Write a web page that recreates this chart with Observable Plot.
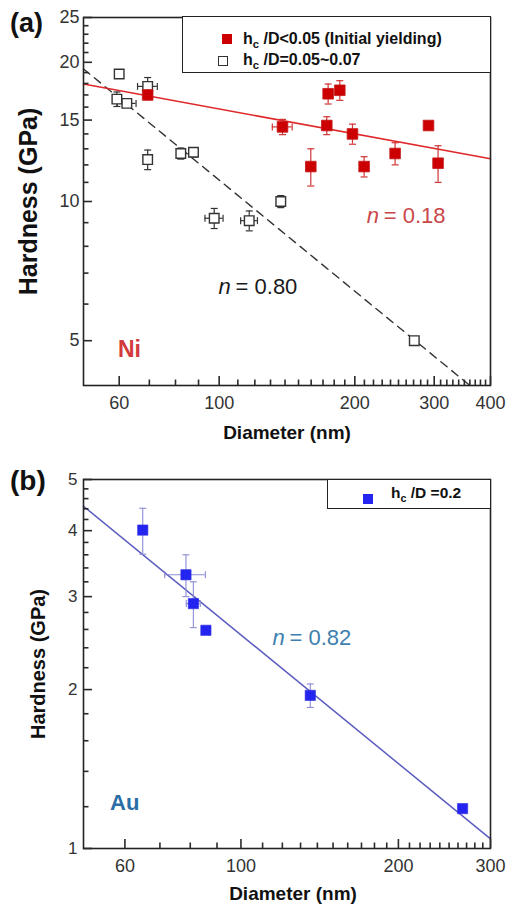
<!DOCTYPE html>
<html><head><meta charset="utf-8">
<script src="https://cdn.jsdelivr.net/npm/d3@7"></script>
<script src="https://cdn.jsdelivr.net/npm/@observablehq/plot@0.6"></script>
<style>
body{margin:0;background:#fff;font-family:"Liberation Sans",Arial,sans-serif;}
#wrap{position:relative;width:507px;height:907px;overflow:hidden;background:#fff;}
#pa{position:absolute;left:0;top:0;}
#pb{position:absolute;left:0;top:455px;}
.tag{position:absolute;font-weight:bold;color:#111;line-height:1;}
.legend{position:absolute;box-sizing:border-box;border:1.6px solid #222;background:#fff;font-weight:bold;color:#111;}
.row{position:absolute;white-space:nowrap;line-height:1;}
.row sub{font-size:70%;vertical-align:-0.35em;line-height:0;}
.sw{position:absolute;width:10px;height:10px;box-sizing:border-box;}
</style></head>
<body><div id="wrap">
<div id="pa"></div><div id="pb"></div>
<div class="tag" style="left:10px;top:10px;font-size:27px;">(a)</div>
<div class="tag" style="left:10px;top:467px;font-size:28px;">(b)</div>
<div class="legend" style="left:182px;top:16px;width:309px;height:57px;">
  <div class="sw" style="left:39px;top:17px;background:#cc0000;"></div>
  <div class="row" style="left:60px;top:14px;font-size:16px;">h<sub>c</sub> /D&lt;0.05 (Initial yielding)</div>
  <div class="sw" style="left:35px;top:39px;border:1.4px solid #333;background:#fff;"></div>
  <div class="row" style="left:60px;top:35px;font-size:16px;">h<sub>c</sub> /D=0.05~0.07</div>
</div>
<div class="legend" style="left:327px;top:479px;width:164px;height:30px;">
  <div class="sw" style="left:35px;top:14px;background:#2424f0;"></div>
  <div class="row" style="left:63px;top:5px;font-size:15.5px;">h<sub>c</sub> /D =0.2</div>
</div>
</div>
<script>
// ---------- Panel (a): Ni ----------
const niRedD    = [69.4, 138.2, 159.7, 173.3, 174.5, 185.2, 197.6, 209.7, 245.7, 291.4, 306];
const niRedH    = [17.0, 14.5, 11.9, 14.6, 17.1, 17.4, 14.0, 11.9, 12.7, 14.6, 12.1];
const niRedHErr = [0.4, 0.55, 1.1, 0.65, 0.85, 0.85, 0.7, 0.6, 0.7, 0, 1.1];
const niRedDErr = [0, 7, 0, 0, 0, 0, 0, 0, 0, 0, 0];

const niOpenD    = [60.0, 59.3, 62.4, 69.4, 69.4, 82.2, 87.7, 97.5, 116.6, 137, 271];
const niOpenH    = [18.87, 16.65, 16.3, 17.74, 12.32, 12.7, 12.78, 9.2, 9.09, 10.0, 5.0];
const niOpenHErr = [0, 0.6, 0.3, 0.8, 0.6, 0.35, 0.3, 0.46, 0.45, 0.3, 0];
const niOpenDErr = [0, 0, 3, 3.5, 0, 0, 0, 4.5, 5, 0, 0];

const niFitRedD = [50, 400], niFitRedH = [17.95, 12.37];
const niFitOpenD = [50, 360], niFitOpenH = [19.35, 4.0];

const aXDomain = [50, 400], aYDomain = [4, 25];
const aXMajor = [60, 100, 200, 300, 400];
const aXMinor = [70, 80, 90, 110, 120, 130, 140, 150, 160, 170, 180, 190, 210, 220, 230, 240, 250, 260, 270, 280, 290, 310, 320, 330, 340, 350, 360, 370, 380, 390];
const aYMajor = [5, 10, 15, 20, 25];
const aYMinor = [6, 7, 8, 9, 11, 12, 13, 14, 16, 17, 18, 19, 21, 22, 23, 24];

// ---------- Panel (b): Au ----------
const auD    = [64.9, 78.5, 81.1, 85.7, 135.7, 265.3];
const auH    = [4.01, 3.30, 2.91, 2.59, 1.95, 1.19];
const auHErr = [0.4, 0.3, 0.29, 0, 0.1, 0];
const auDErr = [0, 7, 2.5, 0, 0, 0];
const auFitD = [50, 300], auFitH = [4.45, 1.043];

const bXDomain = [50, 300], bYDomain = [1, 5];
const bXMajor = [60, 100, 200, 300];
const bXMinor = [70, 80, 90, 110, 120, 130, 140, 150, 160, 170, 180, 190, 210, 220, 230, 240, 250, 260, 270, 280, 290];
const bYMajor = [1, 2, 3, 4, 5];
const bYMinor = [1.2, 1.4, 1.6, 1.8, 2.2, 2.4, 2.6, 2.8, 3.2, 3.4, 3.6, 3.8, 4.2, 4.4, 4.6, 4.8];

// ---------- helpers ----------
const rows = (D, H, HE, DE) => D.map((d, i) => ({d, h: H[i], he: HE ? HE[i] : 0, de: DE ? DE[i] : 0}));
const capH = {draw(c) { c.moveTo(-3.5, 0); c.lineTo(3.5, 0); }};
const capV = {draw(c) { c.moveTo(0, -3.5); c.lineTo(0, 3.5); }};
const FONT = "Liberation Sans, Arial, sans-serif";

function errMarks(data, color, w) {
  const v = data.filter(r => r.he > 0), hz = data.filter(r => r.de > 0);
  const o = {stroke: color, strokeWidth: w, fill: "none"};
  return [
    Plot.ruleX(v, {x: "d", y1: r => r.h - r.he, y2: r => r.h + r.he, ...o}),
    Plot.dot(v, {x: "d", y: r => r.h - r.he, symbol: capH, r: 1, ...o}),
    Plot.dot(v, {x: "d", y: r => r.h + r.he, symbol: capH, r: 1, ...o}),
    Plot.ruleY(hz, {y: "h", x1: r => r.d - r.de, x2: r => r.d + r.de, ...o}),
    Plot.dot(hz, {x: r => r.d - r.de, y: "h", symbol: capV, r: 1, ...o}),
    Plot.dot(hz, {x: r => r.d + r.de, y: "h", symbol: capV, r: 1, ...o})
  ];
}
// inward ticks: rules spanning the frame, inset so only a short stub remains
function tickMarks(fw, fh, xMaj, xMin, yMaj, yMin) {
  const o = {stroke: "#2a2a2a", strokeWidth: 1.6};
  return [
    Plot.ruleX(xMaj, {x: d => d, insetTop: fh - 9, ...o}),
    Plot.ruleX(xMin, {x: d => d, insetTop: fh - 5.5, ...o}),
    Plot.ruleY(yMaj, {y: d => d, insetRight: fw - 9, ...o}),
    Plot.ruleY(yMin, {y: d => d, insetRight: fw - 5.5, ...o})
  ];
}
function nLabel(d, h, val, color) {
  return [
    Plot.text([val], {x: () => d, y: () => h, text: () => "n", fontStyle: "italic", textAnchor: "start", lineAnchor: "middle", fontSize: 22, fill: color}),
    Plot.text([val], {x: () => d, y: () => h, text: () => "= " + val, dx: 17, textAnchor: "start", lineAnchor: "middle", fontSize: 22, fill: color})
  ];
}

// ---------- plot (a) ----------
const red = rows(niRedD, niRedH, niRedHErr, niRedDErr);
const open = rows(niOpenD, niOpenH, niOpenHErr, niOpenDErr);
const plotA = Plot.plot({
  width: 507, height: 455,
  marginLeft: 83, marginRight: 17, marginTop: 17, marginBottom: 70,
  style: {fontFamily: FONT, background: "white", overflow: "visible"},
  x: {type: "log", domain: aXDomain},
  y: {type: "log", domain: aYDomain},
  marks: [
    Plot.line(rows(niFitOpenD, niFitOpenH), {x: "d", y: "h", stroke: "#333", strokeWidth: 1.4, strokeDasharray: "8,6"}),
    Plot.line(rows(niFitRedD, niFitRedH), {x: "d", y: "h", stroke: "#e0282a", strokeWidth: 1.6}),
    ...errMarks(open, "#333", 1.2),
    Plot.dot(open, {x: "d", y: "h", symbol: "square", r: 5.4, fill: "white", stroke: "#333", strokeWidth: 1.4}),
    ...errMarks(red, "#d03434", 1.2),
    Plot.dot(red, {x: "d", y: "h", symbol: "square", r: 6, fill: "#cc0000", stroke: "#c41a1a", strokeWidth: 0.8}),
    ...nLabel(212.6, 9.31, "0.18", "#c9474a"),
    ...nLabel(99.7, 6.52, "0.80", "#1a1a1a"),
    Plot.text(["Ni"], {x: () => 59.6, y: () => 4.78, textAnchor: "start", lineAnchor: "middle", fontSize: 23, fontWeight: "bold", fill: "#d23a3c"}),
    Plot.frame({stroke: "#222", strokeWidth: 1.6}),
    Plot.axisX({ticks: aXMajor, tickFormat: d => String(d), tickSize: 0, tickPadding: 11, fontSize: 18, fill: "#333", label: null}),
    Plot.axisY({ticks: aYMajor, tickFormat: d => String(d), tickSize: 0, tickPadding: 4, fontSize: 18, fill: "#333", label: null}),
    Plot.text(["Hardness (GPa)"], {frameAnchor: "left", dx: -55, rotate: -90, textAnchor: "middle", lineAnchor: "middle", fontSize: 25, fontWeight: "bold", fill: "#111"}),
    Plot.text(["Diameter (nm)"], {frameAnchor: "bottom", dy: 47, textAnchor: "middle", lineAnchor: "middle", fontSize: 19, fontWeight: "bold", fill: "#111"}),
    ...tickMarks(507 - 83 - 17, 455 - 17 - 70, aXMajor, aXMinor, aYMajor, aYMinor)
  ]
});
document.getElementById("pa").appendChild(plotA);

// ---------- plot (b) ----------
const au = rows(auD, auH, auHErr, auDErr);
const plotB = Plot.plot({
  width: 507, height: 452,
  marginLeft: 83, marginRight: 17, marginTop: 24, marginBottom: 59,
  style: {fontFamily: FONT, background: "white", overflow: "visible"},
  x: {type: "log", domain: bXDomain},
  y: {type: "log", domain: bYDomain},
  marks: [
    Plot.line(rows(auFitD, auFitH), {x: "d", y: "h", stroke: "#5c5cc0", strokeWidth: 1.5}),
    ...errMarks(au, "#8c8cd8", 1.1),
    Plot.dot(au, {x: "d", y: "h", symbol: "square", r: 5.8, fill: "#2424f0", stroke: "#3030e0", strokeWidth: 0.6}),
    ...nLabel(114.9, 2.50, "0.82", "#3d7fae"),
    Plot.text(["Au"], {x: () => 56.2, y: () => 1.22, textAnchor: "start", lineAnchor: "middle", fontSize: 22, fontWeight: "bold", fill: "#2b6da6"}),
    Plot.frame({stroke: "#222", strokeWidth: 1.6}),
    Plot.axisX({ticks: bXMajor, tickFormat: d => String(d), tickSize: 0, tickPadding: 11, fontSize: 18, fill: "#333", label: null}),
    Plot.axisY({ticks: bYMajor, tickFormat: d => String(d), tickSize: 0, tickPadding: 6, fontSize: 17, fill: "#333", label: null}),
    Plot.text(["Hardness (GPa)"], {frameAnchor: "left", dx: -45, rotate: -90, textAnchor: "middle", lineAnchor: "middle", fontSize: 20, fontWeight: "bold", fill: "#111"}),
    Plot.text(["Diameter (nm)"], {frameAnchor: "bottom", dx: 6, dy: 45, textAnchor: "middle", lineAnchor: "middle", fontSize: 19, fontWeight: "bold", fill: "#111"}),
    ...tickMarks(507 - 83 - 17, 452 - 24 - 59, bXMajor, bXMinor, bYMajor, bYMinor)
  ]
});
document.getElementById("pb").appendChild(plotB);
</script>
</body></html>
